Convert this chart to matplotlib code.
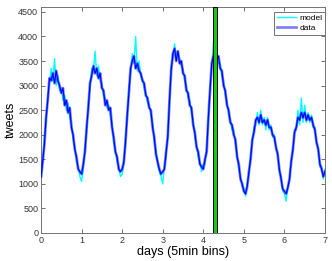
import numpy as np
import matplotlib
matplotlib.use('Agg')
import matplotlib.pyplot as plt

plt.rcParams['font.family'] = ['Liberation Sans', 'DejaVu Sans']

# hourly readings of the tweet counts (5 min bins), one row per day
data = [
    1150, 1450, 1800, 2350, 2700, 3150, 3100, 3250, 3050, 3300, 3100, 3000,
    2850, 2950, 2600, 2700, 2450, 2550, 2150, 2000, 1700, 1550, 1300, 1250,
    1200, 1400, 1650, 2150, 2550, 3050, 3200, 3400, 3250, 3350, 3150, 3250,
    2950, 2900, 2600, 2700, 2500, 2550, 2150, 1950, 1650, 1550, 1300, 1250,
    1300, 1450, 1850, 2400, 2850, 3350, 3500, 3600, 3350, 3450, 3300, 3250,
    3100, 3050, 2800, 2750, 2550, 2500, 2150, 1950, 1600, 1450, 1300, 1200,
    1250, 1300, 1650, 1950, 2700, 3300, 3650, 3750, 3500, 3700, 3450, 3500,
    3250, 3200, 2900, 2850, 2600, 2550, 2200, 2050, 1750, 1650, 1400, 1350,
    1300, 1500, 1650, 2350, 2900, 3450, 3600, 3700, 3500, 3600, 3350, 3300,
    3000, 2900, 2600, 2500, 2250, 2200, 2000, 1900, 1550, 1400, 1100, 1000,
    850, 800, 950, 1250, 1500, 1900, 2050, 2300, 2350, 2250, 2400, 2250,
    2300, 2200, 2300, 2150, 2150, 2000, 1950, 1750, 1600, 1300, 1100, 900,
    850, 800, 920, 1100, 1450, 1700, 2050, 2150, 2350, 2300, 2450, 2350,
    2450, 2300, 2400, 2300, 2350, 2200, 2100, 1850, 1700, 1400, 1300, 1150,
    1250,
]

model = [
    1000, 1500, 1900, 2250, 2800, 3050, 3350, 3100, 3550, 3000, 3200, 2900,
    2950, 2700, 2800, 2500, 2650, 2350, 2250, 1900, 1750, 1450, 1350, 1150,
    1050, 1300, 1750, 2050, 2650, 2950, 3350, 3300, 3700, 3200, 3400, 3100,
    3050, 2800, 2750, 2550, 2600, 2400, 2250, 1850, 1700, 1450, 1350, 1150,
    1200, 1400, 1950, 2300, 2950, 3250, 3650, 3450, 4000, 3300, 3500, 3200,
    3150, 2950, 2850, 2650, 2600, 2400, 2250, 1850, 1700, 1400, 1250, 1150,
    1000, 1350, 1550, 2050, 2600, 3400, 3550, 3850, 3600, 3650, 3550, 3400,
    3350, 3100, 3000, 2750, 2700, 2450, 2300, 1950, 1800, 1550, 1450, 1250,
    1400, 1400, 1750, 2250, 3000, 3350, 3900, 3550, 3650, 3450, 3450, 3200,
    3100, 2800, 2700, 2400, 2300, 2100, 2100, 1800, 1600, 1300, 1150, 950,
    900, 750, 1000, 1200, 1600, 1850, 2150, 2200, 2450, 2200, 2500, 2200,
    2350, 2100, 2350, 2100, 2200, 1950, 2000, 1700, 1650, 1250, 1150, 850,
    800, 650, 950, 1050, 1500, 1650, 2100, 2100, 2500, 2200, 2750, 2250,
    2600, 2250, 2450, 2250, 2400, 2150, 2150, 1800, 1750, 1350, 1350, 1100,
    1300,
]

event_start = 4.25
event_end = 4.33

days = np.arange(len(data)) / 24.0

fig = plt.figure(figsize=(3.32, 2.61), dpi=100)
ax = fig.add_axes([41 / 332, 28 / 261, 284 / 332, 226 / 261])

ax.plot(days, model, color='cyan', lw=1.0, label='model', zorder=2)
ax.plot(days, data, color='#0000ff', lw=2.0, alpha=0.5, label='data', zorder=3)
ax.plot(days, data, color='#0000ff', lw=0.8, zorder=3)
ax.axvspan(event_start, event_end, facecolor='#11cc11', edgecolor='k', lw=0.7, zorder=4)

ax.set_xlim(0, 7)
ax.set_ylim(0, 4600)
ax.set_xticks(range(0, 8))
ax.set_yticks(range(0, 5000, 500))
ax.tick_params(direction='in', length=3, width=0.6, labelsize=6.5,
               colors='0.35', labelcolor='0.2', top=True, right=True, pad=2)
for s in ax.spines.values():
    s.set_color('0.45')
    s.set_linewidth(0.7)

ax.set_xlabel('days (5min bins)', fontsize=9, labelpad=1)
ax.set_ylabel('tweets', fontsize=9, labelpad=1)

leg = ax.legend(loc='upper right', bbox_to_anchor=(1.0, 0.98), borderaxespad=0,
                fontsize=6, fancybox=False, framealpha=1, edgecolor='0.45',
                handlelength=2.3, handletextpad=0.4, labelspacing=0.3,
                borderpad=0.3)
leg.get_frame().set_linewidth(0.7)

fig.savefig('out.png', dpi=100)
